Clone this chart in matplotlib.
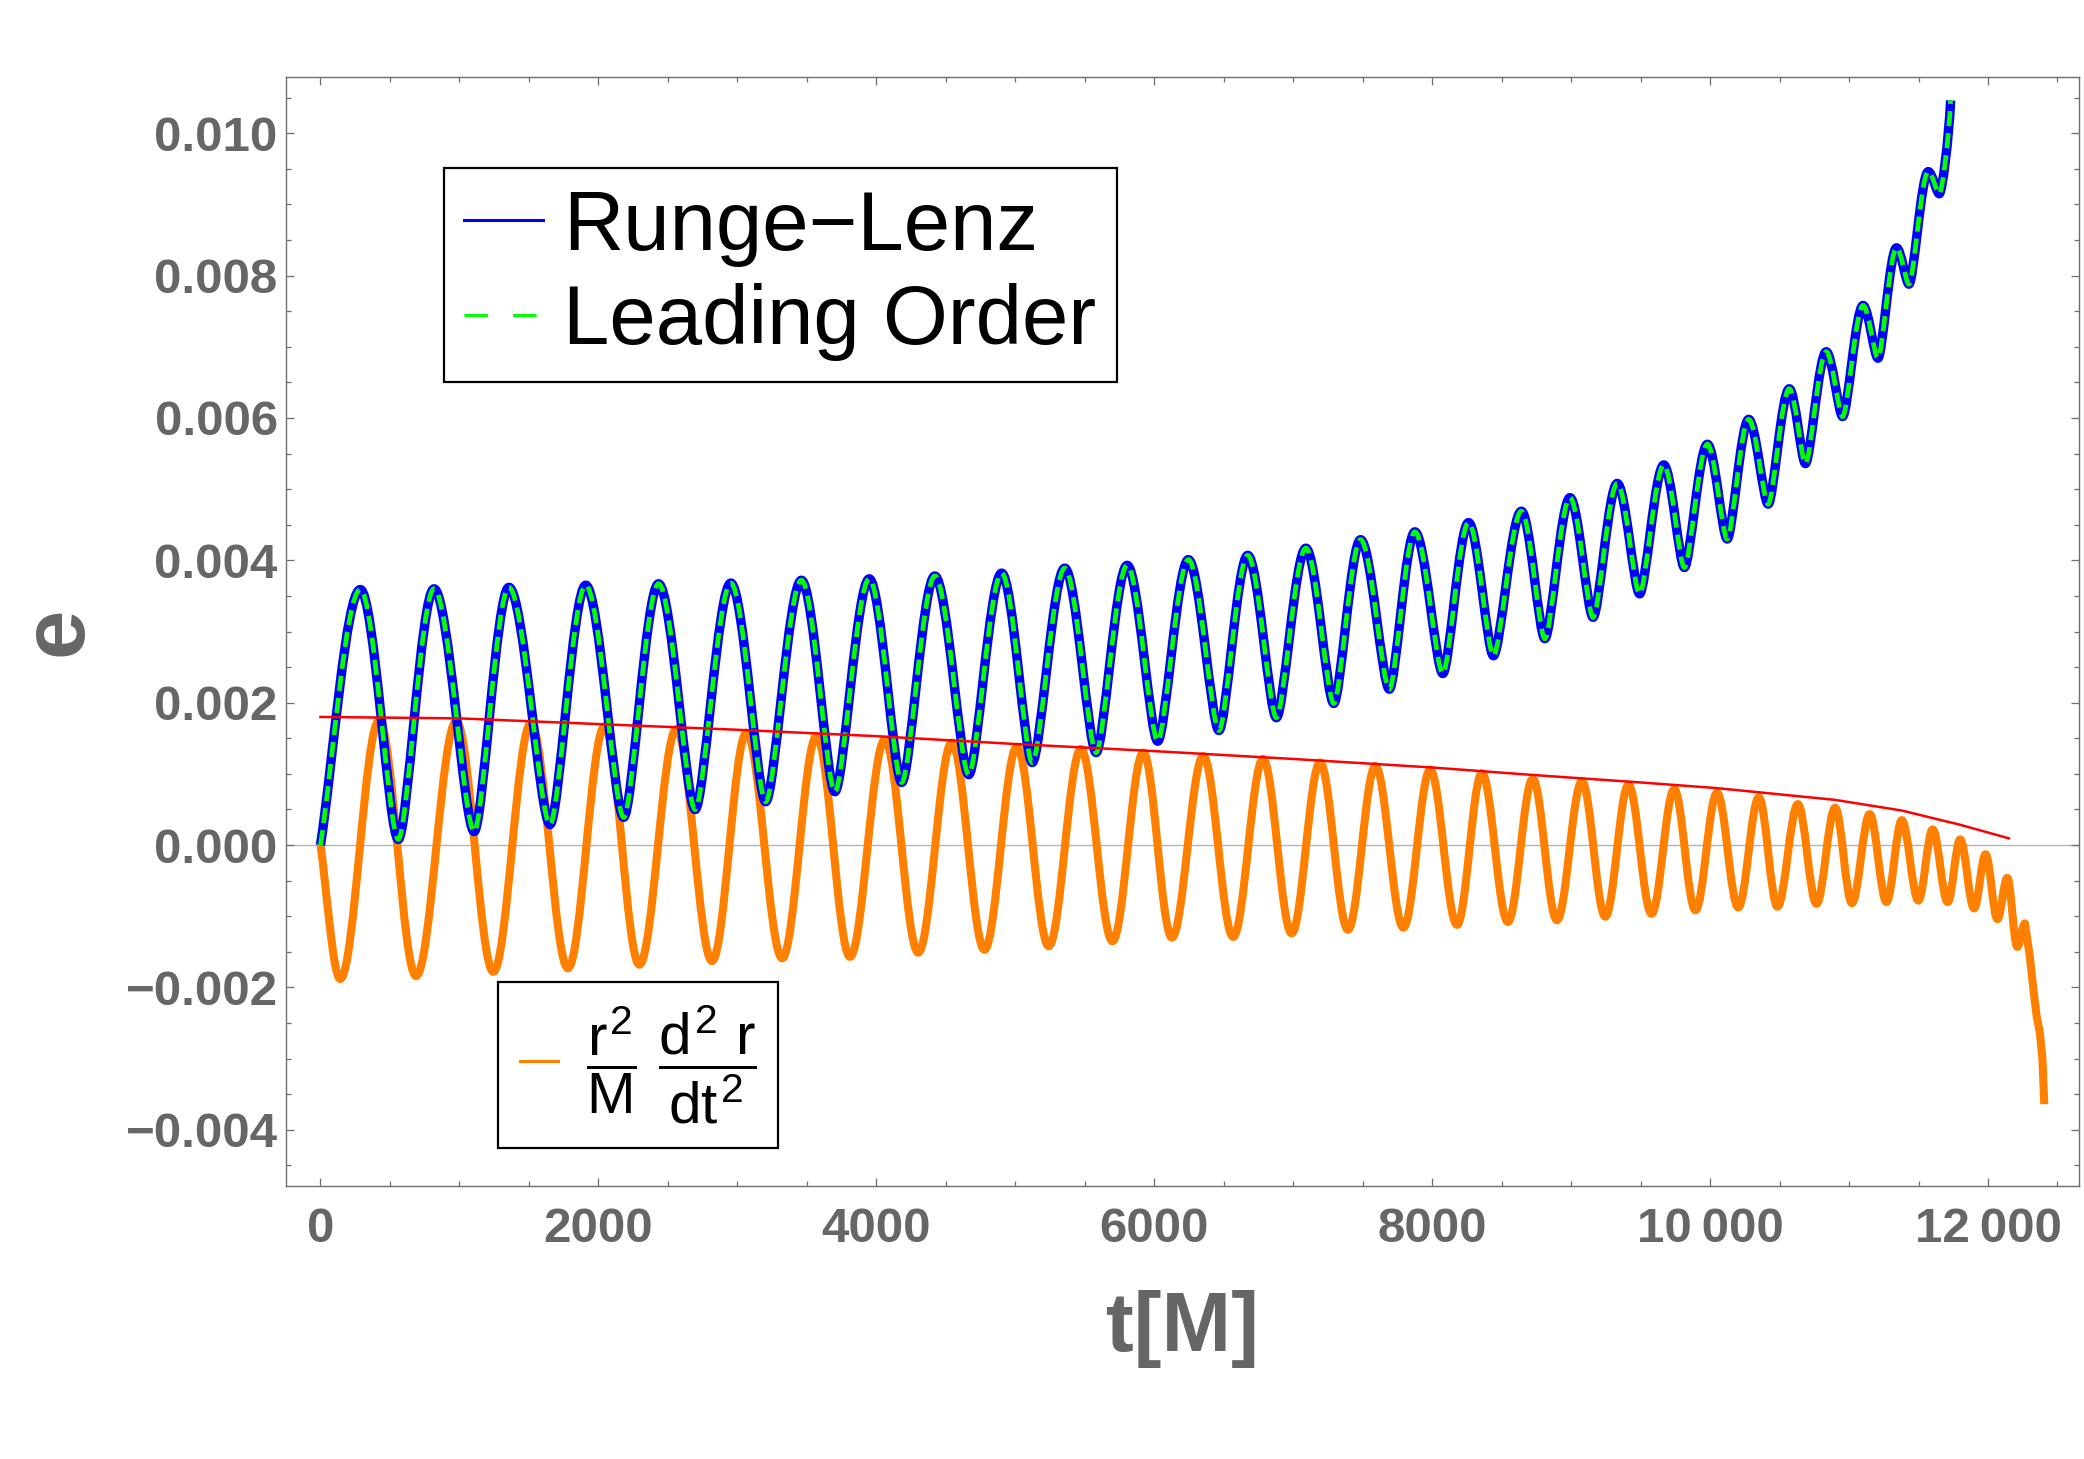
import matplotlib
matplotlib.use('Agg')
import matplotlib.pyplot as plt
from matplotlib.path import Path
from matplotlib.patches import PathPatch
from matplotlib.lines import Line2D
from matplotlib.ticker import MultipleLocator

plt.rcParams['font.family'] = ['Liberation Sans', 'DejaVu Sans']
plt.rcParams['mathtext.fontset'] = 'custom'
plt.rcParams['mathtext.rm'] = 'Liberation Sans'
plt.rcParams['mathtext.it'] = 'Liberation Sans'
plt.rcParams['mathtext.bf'] = 'Liberation Sans:bold'

# Runge-Lenz eccentricity: start point, alternating peaks / troughs, end point
rl_t = [0, 287, 560, 817, 1106, 1356, 1652, 1909, 2182, 2433, 2696, 2953, 3204,
        3461, 3702, 3949, 4183, 4421, 4665, 4902, 5122, 5356, 5582, 5805, 6025,
        6246, 6466, 6673, 6879, 7091, 7292, 7485, 7692, 7876, 8077, 8262, 8441,
        8642, 8811, 8992, 9158, 9332, 9493, 9667, 9815, 9981, 10123, 10278, 10418,
        10570, 10686, 10836, 10954, 11101, 11208, 11342, 11431, 11570, 11650, 11731]
rl_e = [0.0, 0.00359, 0.00008, 0.00360, 0.00019, 0.00362, 0.00029, 0.00365, 0.00039,
        0.00367, 0.00050, 0.00368, 0.00061, 0.00372, 0.00075, 0.00374, 0.00088,
        0.00378, 0.00099, 0.00382, 0.00116, 0.00389, 0.00130, 0.00393, 0.00146,
        0.00401, 0.00161, 0.00407, 0.00179, 0.00417, 0.00199, 0.00429, 0.00219,
        0.00440, 0.00241, 0.00453, 0.00266, 0.00469, 0.00290, 0.00488, 0.00320,
        0.00508, 0.00353, 0.00534, 0.00390, 0.00563, 0.00430, 0.00598, 0.00479,
        0.00641, 0.00536, 0.00693, 0.00602, 0.00758, 0.00684, 0.00839, 0.00788,
        0.00946, 0.00915, 0.01046]

# leading order result sits on top of the Runge-Lenz curve
lo_t = list(rl_t)
lo_e = list(rl_e)

# r^2/M d^2r/dt^2: start point then alternating troughs / peaks
acc_t = [0, 142, 422, 688, 977, 1244, 1514, 1781, 2044, 2295, 2561, 2818, 3066,
         3323, 3570, 3811, 4061, 4302, 4543, 4778, 5012, 5241, 5472, 5700, 5921,
         6127, 6353, 6568, 6783, 6989, 7193, 7394, 7592, 7793, 7986, 8179, 8358,
         8545, 8724, 8898, 9078, 9246, 9413, 9579, 9742, 9895, 10050, 10203, 10351,
         10485, 10632, 10766, 10900, 11021, 11149, 11270, 11380, 11499, 11602,
         11710, 11800, 11900, 11983, 12068, 12139, 12211, 12266]
acc_e = [0.0, -0.00188, 0.00175, -0.00184, 0.00174, -0.00178, 0.00171, -0.00173,
         0.00167, -0.00168, 0.00163, -0.00163, 0.00158, -0.00159, 0.00153, -0.00157,
         0.00148, -0.00151, 0.00144, -0.00147, 0.00138, -0.00142, 0.00135, -0.00135,
         0.00130, -0.00130, 0.00125, -0.00129, 0.00121, -0.00124, 0.00116, -0.00119,
         0.00111, -0.00116, 0.00106, -0.00112, 0.00101, -0.00108, 0.00093, -0.001055,
         0.000895, -0.001005, 0.000845, -0.000965, 0.000785, -0.000915, 0.000735,
         -0.000875, 0.00067, -0.000865, 0.000575, -0.000825, 0.000525, -0.000815,
         0.000435, -0.0008, 0.00035, -0.00078, 0.00022, -0.0008, 0.00008, -0.00089,
         -0.00013, -0.00104, -0.00046, -0.00143, -0.0011]
# final plunge after the last bump
tail_t = [12300, 12330, 12350, 12372, 12392, 12405]
tail_e = [-0.00155, -0.00208, -0.00240, -0.00262, -0.00300, -0.00364]

# red envelope
env_t = [0, 1000, 2000, 3000, 4000, 5000, 6000, 7000, 8000, 8724, 9500, 10050,
         10900, 11380, 11800, 12150]
env_e = [0.00180, 0.00178, 0.00170, 0.00162, 0.00153, 0.00142, 0.00132, 0.00121,
         0.00109, 0.000985, 0.00088, 0.0008, 0.000635, 0.000485, 0.000285, 0.000095]


def smooth_path(ts, es, k_peak=0.36, k_trough=0.36, free_end=False, tail=None):
    # cubic pieces with flat tangents at each extremum
    verts = [(ts[0], es[0])]
    codes = [Path.MOVETO]
    n = len(ts)
    for i in range(1, n):
        t0, e0, t1, e1 = ts[i - 1], es[i - 1], ts[i], es[i]
        dt = t1 - t0
        k0 = k_trough if (i > 1 and e0 < e1) else k_peak
        k1 = k_trough if e1 < e0 else k_peak
        if i == 1:
            c1 = (t0 + 0.3 * dt, e0 + 0.3 * (e1 - e0))
        else:
            c1 = (t0 + k0 * dt, e0)
        if free_end and i == n - 1:
            c2 = (t1 - 0.15 * dt, e1 - 0.4 * (e1 - e0))
        else:
            c2 = (t1 - k1 * dt, e1)
        verts += [c1, c2, (t1, e1)]
        codes += [Path.CURVE4] * 3
    if tail:
        for p in zip(*tail):
            verts.append(p)
            codes.append(Path.LINETO)
    return Path(verts, codes)


fig = plt.figure(figsize=(20.84, 14.59), dpi=100)
ax = fig.add_axes([0.13724, 0.18712, 0.86036, 0.76011])

ax.axhline(0, color='#b4b4b4', lw=1.0, zorder=1)

ax.add_patch(PathPatch(smooth_path(acc_t, acc_e, tail=(tail_t, tail_e)), fill=False,
                       edgecolor='#ff8000', lw=5.8, joinstyle='round', capstyle='butt', zorder=2))
ax.add_patch(PathPatch(smooth_path(rl_t, rl_e, k_trough=0.25, free_end=True), fill=False,
                       edgecolor='#0000ff', lw=6.8, joinstyle='round', capstyle='butt', zorder=3))
ax.add_patch(PathPatch(smooth_path(lo_t, lo_e, k_trough=0.25, free_end=True), fill=False,
                       edgecolor='#00ff00', lw=3.4, linestyle=(0, (3.2, 1.5)),
                       capstyle='butt', zorder=4))
ax.plot(env_t, env_e, color='#ff0000', lw=1.8, zorder=5)

ax.set_xlim(-248, 12655)
ax.set_ylim(-0.004789, 0.01079)

tick_kw = dict(fontsize=35.5, fontweight='bold', color='#666666')
ax.set_xticks([0, 2000, 4000, 6000, 8000, 10000, 12000],
              labels=['0', '2000', '4000', '6000', '8000', '10\u2009000', '12\u2009000'], **tick_kw)
ax.set_yticks([-0.004, -0.002, 0.0, 0.002, 0.004, 0.006, 0.008, 0.010],
              labels=['\u22120.004', '\u22120.002', '0.000', '0.002', '0.004', '0.006',
                      '0.008', '0.010'], **tick_kw)
ax.xaxis.set_minor_locator(MultipleLocator(500))
ax.yaxis.set_minor_locator(MultipleLocator(0.0005))
ax.tick_params(which='both', direction='in', top=True, right=True, color='#6e6e6e', width=0.9)
ax.tick_params(which='major', length=6)
ax.tick_params(which='minor', length=3.4)
ax.tick_params(axis='x', pad=15)
ax.tick_params(axis='y', pad=6)
for s in ax.spines.values():
    s.set_color('#6e6e6e')
    s.set_linewidth(1.0)

ax.set_xlabel('t[M]', fontsize=60, fontweight='bold', color='#666666')
ax.xaxis.set_label_coords(0.5, -0.094)
ax.set_ylabel('e', fontsize=64, fontweight='bold', color='#666666')
ax.yaxis.set_label_coords(-0.1037, 0.5)

h_rl = Line2D([], [], color='#0000ff', lw=2.2)
h_lo = Line2D([], [], color='#00ff00', lw=2.2, linestyle=(0, (7.7, 8.2)))
leg1 = ax.legend([h_rl, h_lo], ['Runge\u2212Lenz', 'Leading Order'], loc='upper left',
                 bbox_to_anchor=(0.0879, 0.9182), borderaxespad=0, fontsize=60,
                 fancybox=False, edgecolor='black', framealpha=1, borderpad=0.25,
                 labelspacing=0.2, handlelength=0.94, handletextpad=0.24)
leg1.get_frame().set_linewidth(1.6)
ax.add_artist(leg1)

h_acc = Line2D([], [], color='#ff8000', lw=2.2)
leg2 = ax.legend([h_acc], [r'$\dfrac{r^2}{M}\ \dfrac{d^2\ r}{dt^2}$'], loc='upper left',
                 bbox_to_anchor=(0.1184, 0.1842), borderaxespad=0, fontsize=42,
                 fancybox=False, edgecolor='black', framealpha=1, borderpad=0.37,
                 handlelength=0.66, handletextpad=0.47)
leg2.get_frame().set_linewidth(1.6)

fig.savefig('out.png', dpi=100)
